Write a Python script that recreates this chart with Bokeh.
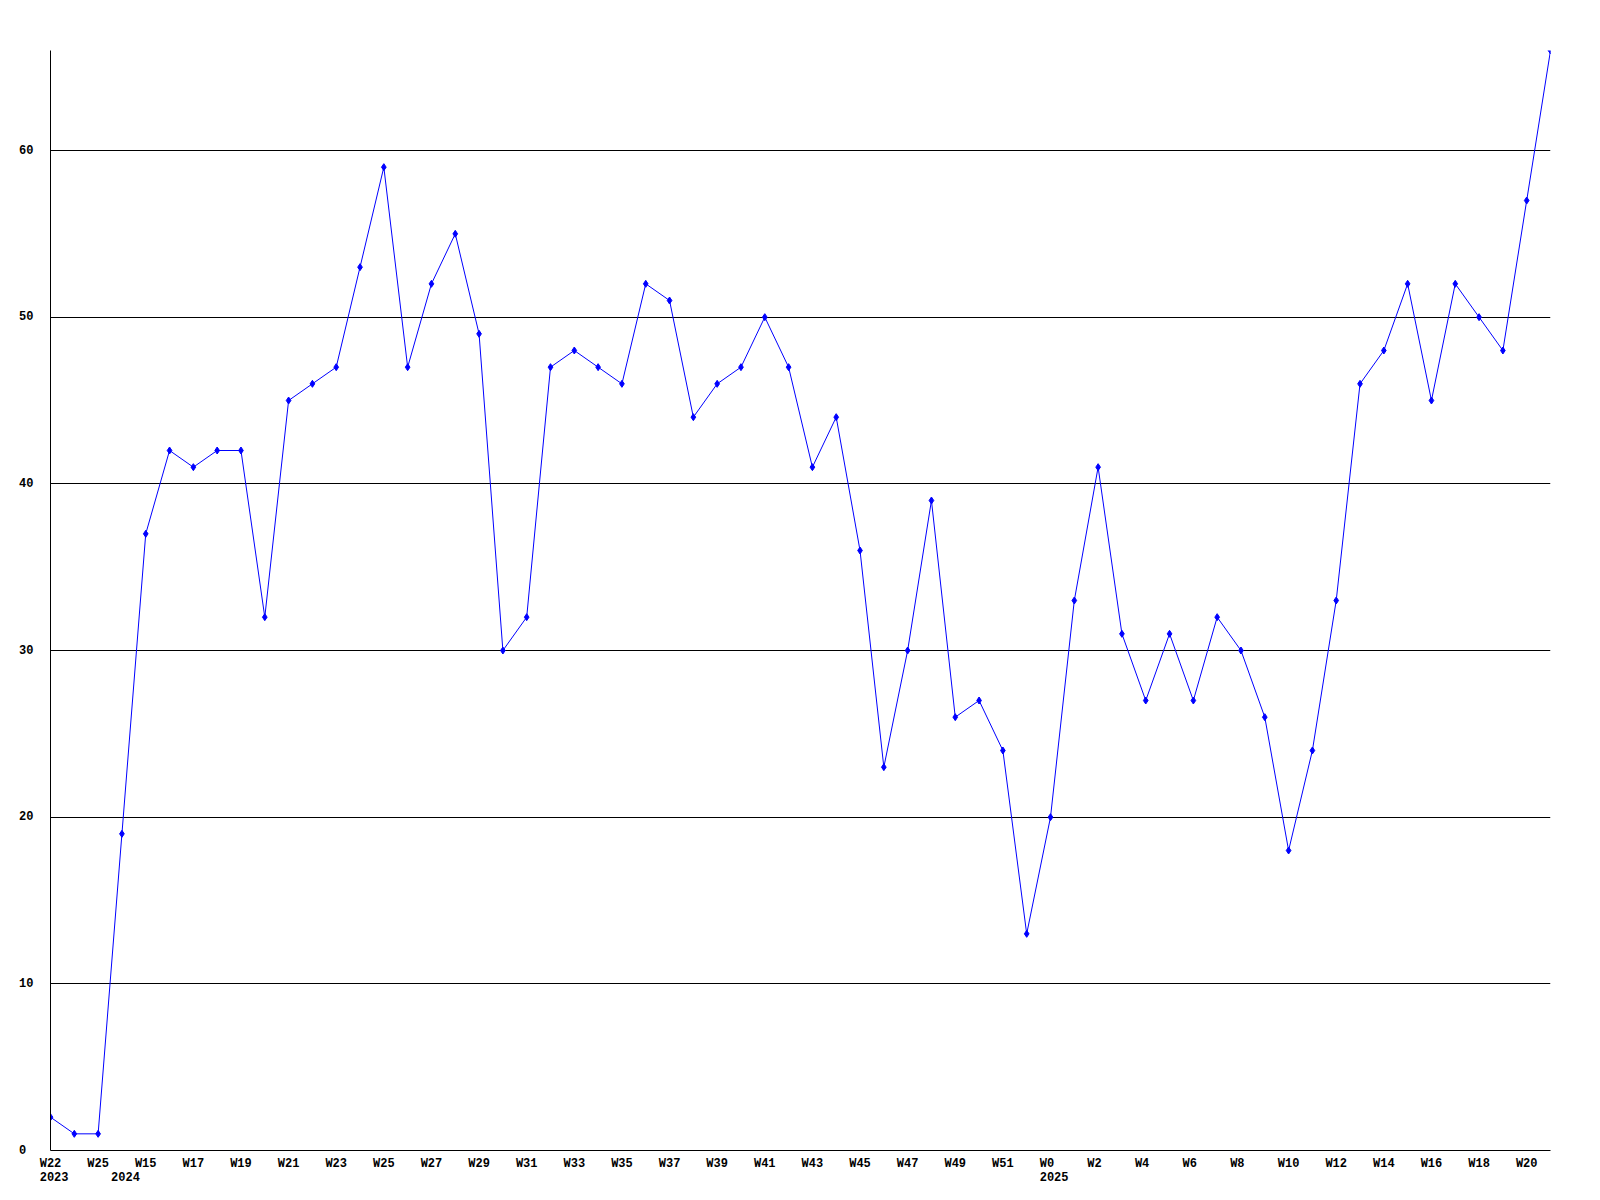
from bokeh.plotting import figure
from bokeh.models import LinearAxis, FixedTicker, Range1d, Grid
from bokeh.embed import file_html
from bokeh.resources import INLINE

weeks = ["W22", "W23", "W25",
         "W14", "W15", "W16", "W17", "W18", "W19", "W20", "W21", "W22", "W23", "W24", "W25",
         "W26", "W27", "W28", "W29", "W30", "W31", "W32", "W33", "W34", "W35", "W36", "W37",
         "W38", "W39", "W40", "W41", "W42", "W43", "W44", "W45", "W46", "W47", "W48", "W49",
         "W50", "W51", "W52",
         "W0", "W1", "W2", "W3", "W4", "W5", "W6", "W7", "W8", "W9", "W10", "W11", "W12",
         "W13", "W14", "W15", "W16", "W17", "W18", "W19", "W20", "W21"]
years = {0: "2023", 3: "2024", 42: "2025"}
values = [2, 1, 1,
          19, 37, 42, 41, 42, 42, 32, 45, 46, 47, 53, 59,
          47, 52, 55, 49, 30, 32, 47, 48, 47, 46, 52, 51,
          44, 46, 47, 50, 47, 41, 44, 36, 23, 30, 39, 26,
          27, 24, 13,
          20, 33, 41, 31, 27, 31, 27, 32, 30, 26, 18, 24, 33,
          46, 48, 52, 45, 52, 50, 48, 57, 66]
y_ticks = [0, 10, 20, 30, 40, 50, 60]

x = list(range(len(values)))
NB = "\u00a0"

p = figure(width=1592, height=1192, output_backend="svg", toolbar_location=None,
           x_range=Range1d(0, len(values) - 1), y_range=Range1d(0, 66),
           x_axis_location=None, y_axis_location=None,
           min_border_left=50, min_border_right=42, min_border_top=50, min_border_bottom=42)
p.outline_line_color = None
p.background_fill_color = "white"

font = "Liberation Mono"

# y axis (labels left-aligned, padded to two characters)
y_over = {t: (str(t) if len(str(t)) == 2 else str(t) + NB) for t in y_ticks}
ya = LinearAxis(ticker=FixedTicker(ticks=y_ticks), major_label_overrides=y_over)
ya.major_tick_line_color = None
ya.minor_tick_line_color = None
ya.axis_line_color = "black"
ya.major_label_text_font = font
ya.major_label_text_font_style = "bold"
ya.major_label_text_font_size = "12px"
ya.major_label_text_color = "black"
ya.major_label_standoff = 11
p.add_layout(ya, "left")

# week axis
wk_ticks = list(range(0, len(values), 2))
wk_over = {}
for i in wk_ticks:
    lab = weeks[i]
    if len(lab) == 2:
        lab = lab + NB
    wk_over[i] = lab
xa = LinearAxis(ticker=FixedTicker(ticks=wk_ticks), major_label_overrides=wk_over)
xa.major_tick_line_color = None
xa.minor_tick_line_color = None
xa.axis_line_color = "black"
xa.major_label_text_font = font
xa.major_label_text_font_style = "bold"
xa.major_label_text_font_size = "12px"
xa.major_label_text_color = "black"
xa.major_label_standoff = 0
p.add_layout(xa, "below")

# year axis
yr_ticks = sorted(years.keys())
yr_over = {k: NB + v for k, v in years.items()}
xa2 = LinearAxis(ticker=FixedTicker(ticks=yr_ticks), major_label_overrides=yr_over)
xa2.major_tick_line_color = None
xa2.minor_tick_line_color = None
xa2.axis_line_color = None
xa2.major_label_text_font = font
xa2.major_label_text_font_style = "bold"
xa2.major_label_text_font_size = "12px"
xa2.major_label_text_color = "black"
xa2.major_label_standoff = -9
p.add_layout(xa2, "below")

p.xgrid.visible = False
p.ygrid.visible = False
g = Grid(dimension=1, ticker=FixedTicker(ticks=y_ticks[1:]), grid_line_color="black", grid_line_width=1)
p.add_layout(g)

p.line(x, values, line_color="#0000ff", line_width=1)
p.scatter(x, values, marker="diamond", size=7, fill_color="#0000ff", line_color="#0000ff")

open("out.html", "w").write(file_html(p, INLINE))
